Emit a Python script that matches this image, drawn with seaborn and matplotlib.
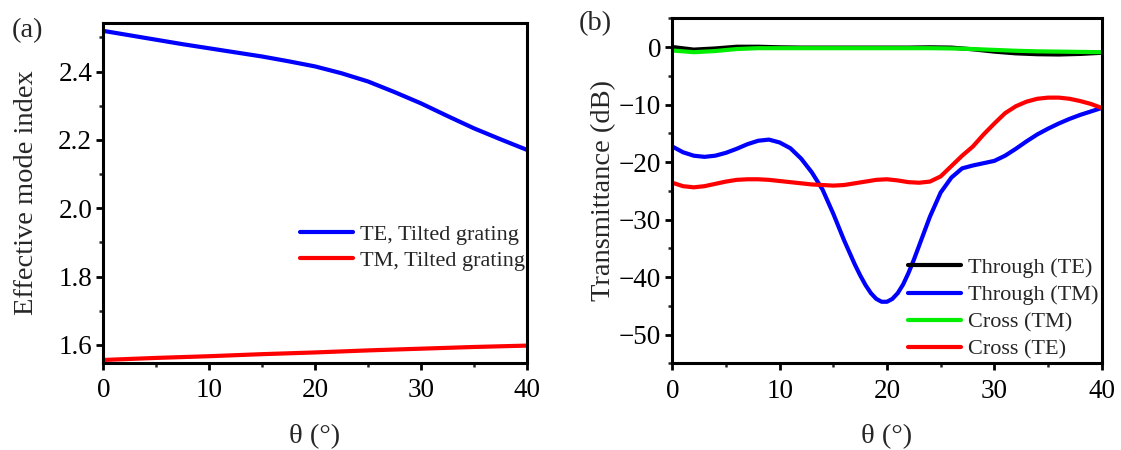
import matplotlib
matplotlib.use("Agg")
import matplotlib.pyplot as plt
import seaborn as sns
from matplotlib.ticker import MultipleLocator, FormatStrFormatter

# ---------------- data: panel (a) ----------------
theta_a_te = [0, 2.5, 5, 7.5, 10, 12.5, 15, 17.5, 20, 22.5, 25, 27.5, 30, 32.5, 35, 37.5, 40]
neff_te = [2.519, 2.506, 2.493, 2.480, 2.468, 2.456, 2.444, 2.430, 2.415, 2.395, 2.371,
           2.340, 2.307, 2.270, 2.234, 2.202, 2.171]
theta_a_tm = [0, 5, 10, 15, 20, 25, 30, 35, 40]
neff_tm = [1.556, 1.562, 1.567, 1.573, 1.578, 1.584, 1.589, 1.594, 1.598]

# ---------------- data: panel (b) ----------------
theta_b_tm = [0, 1, 2, 3, 4, 5, 6, 7, 8, 9, 10, 11, 12, 13, 14, 15, 16, 16.5, 17, 17.5,
              18, 18.5, 19, 19.5, 20, 20.5, 21, 21.5, 22, 22.5, 23, 24, 25, 26, 27, 28,
              29, 30, 31, 32, 33, 34, 35, 36, 37, 38, 39, 40]
through_tm = [-17.3, -18.3, -18.9, -19.1, -18.9, -18.4, -17.7, -16.9, -16.3, -16.1,
              -16.6, -17.6, -19.4, -21.8, -24.8, -29.0, -33.6, -35.7, -37.8, -39.7,
              -41.4, -42.8, -43.8, -44.3, -44.3, -43.8, -42.8, -41.3, -39.3, -37.0,
              -34.5, -29.5, -25.3, -22.7, -21.1, -20.6, -20.2, -19.8, -18.9, -17.7,
              -16.4, -15.2, -14.2, -13.3, -12.5, -11.8, -11.2, -10.6]
theta_b_te = list(range(0, 41))
cross_te = [-23.6, -24.2, -24.4, -24.2, -23.8, -23.4, -23.1, -23.0, -23.0, -23.1,
            -23.3, -23.5, -23.7, -23.9, -24.0, -24.1, -24.0, -23.7, -23.4, -23.1,
            -23.0, -23.2, -23.5, -23.6, -23.4, -22.5, -20.7, -18.9, -17.3, -15.2,
            -13.3, -11.5, -10.3, -9.5, -9.0, -8.8, -8.8, -9.0, -9.4, -9.9, -10.6]
theta_b_coarse = list(range(0, 41, 2))
through_te = [0.0, -0.45, -0.25, 0.05, 0.05, -0.05, -0.1, -0.1, -0.1, -0.1, -0.1,
              -0.1, -0.05, -0.1, -0.4, -0.8, -1.1, -1.25, -1.3, -1.2, -1.0]
cross_tm = [-0.6, -0.9, -0.7, -0.35, -0.2, -0.2, -0.2, -0.2, -0.2, -0.2, -0.2,
            -0.2, -0.2, -0.25, -0.35, -0.5, -0.65, -0.75, -0.8, -0.85, -0.9]

labels_a = ["TE, Tilted grating", "TM, Tilted grating"]
labels_b = ["Through (TE)", "Through (TM)", "Cross (TM)", "Cross (TE)"]

sns.set_style("ticks")
plt.rcParams["font.family"] = ["Liberation Serif", "DejaVu Serif"]

fig = plt.figure(figsize=(11.21, 4.5), dpi=100)
ax1 = fig.add_axes([0.0922, 0.194, 0.3777, 0.7556])
ax2 = fig.add_axes([0.5997, 0.1927, 0.3831, 0.7667])

LW = 3.0
sns.lineplot(x=theta_a_te, y=neff_te, ax=ax1, color="#0000ff", lw=LW, label=labels_a[0])
sns.lineplot(x=theta_a_tm, y=neff_tm, ax=ax1, color="#ff0000", lw=LW, label=labels_a[1])

sns.lineplot(x=theta_b_coarse, y=through_te, ax=ax2, color="black", lw=LW, label=labels_b[0])
sns.lineplot(x=theta_b_tm, y=through_tm, ax=ax2, color="#0000ff", lw=LW, label=labels_b[1])
sns.lineplot(x=theta_b_coarse, y=cross_tm, ax=ax2, color="#00ee00", lw=LW, label=labels_b[2])
sns.lineplot(x=theta_b_te, y=cross_te, ax=ax2, color="#ff0000", lw=LW, label=labels_b[3])

ax1.set_xlim(0, 40)
ax1.set_ylim(1.548, 2.543)
ax1.xaxis.set_major_locator(MultipleLocator(10))
ax1.xaxis.set_minor_locator(MultipleLocator(5))
ax1.yaxis.set_major_locator(MultipleLocator(0.2))
ax1.yaxis.set_minor_locator(MultipleLocator(0.1))
ax1.yaxis.set_major_formatter(FormatStrFormatter("%.1f"))

ax2.set_xlim(0, 40)
ax2.set_ylim(-55, 5)
ax2.xaxis.set_major_locator(MultipleLocator(10))
ax2.xaxis.set_minor_locator(MultipleLocator(5))
ax2.yaxis.set_major_locator(MultipleLocator(10))
ax2.yaxis.set_minor_locator(MultipleLocator(5))

for ax in (ax1, ax2):
    for s in ax.spines.values():
        s.set_visible(True)
        s.set_linewidth(2.2)
        s.set_color("black")
    ax.tick_params(which="major", direction="out", length=5, width=2,
                   labelsize=19.5, colors="black", pad=3)
    ax.tick_params(axis="x", which="major", pad=6)
    ax.tick_params(which="minor", direction="out", length=3, width=1.8)
    ax.set_xlabel("θ (°)", fontsize=20.5, labelpad=15)

ax1.set_ylabel("Effective mode index", fontsize=20.5, labelpad=14)
ax2.set_ylabel("Transmittance (dB)", fontsize=20.5, labelpad=2)

ax1.legend(loc="center left", bbox_to_anchor=(0.2676, 0.4500), bbox_transform=fig.transFigure,
           frameon=False, fontsize=16, handlelength=2.4, handletextpad=0.3,
           labelspacing=0.25, borderpad=0, borderaxespad=0)
ax2.legend(loc="center left", bbox_to_anchor=(0.81, 0.3140), bbox_transform=fig.transFigure,
           frameon=False, fontsize=16, handlelength=2.4, handletextpad=0.3,
           labelspacing=0.3, borderpad=0, borderaxespad=0)

fig.text(12 / 1121, 1 - 31 / 450, "(a)", fontsize=20.5, ha="left", va="center")
fig.text(579 / 1121, 1 - 24 / 450, "(b)", fontsize=20.5, ha="left", va="center")

fig.savefig("out.png", dpi=100, facecolor="white")
